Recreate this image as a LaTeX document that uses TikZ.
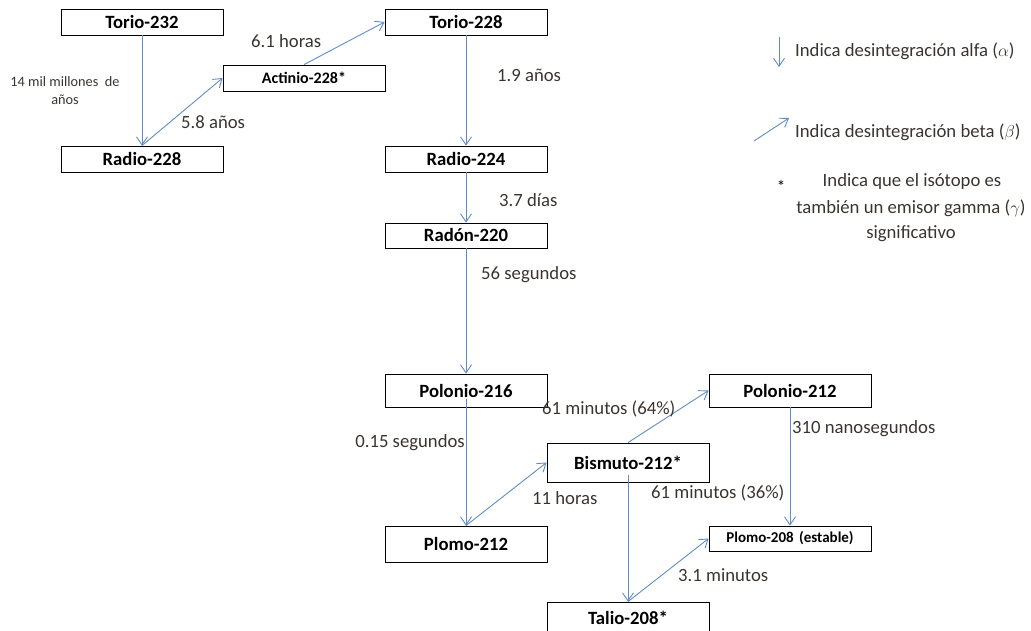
\documentclass[tikz,border=0pt]{standalone}
\usepackage{fontspec}
\setmainfont{Carlito}
\usetikzlibrary{arrows.meta}
\definecolor{arrcol}{HTML}{5F8CC6}
\definecolor{labcol}{HTML}{3A3430}
\tikzset{
  box/.style={draw=black, line width=0.8pt, minimum width=162pt, inner sep=0pt,
    font=\fontsize{18.7}{22}\selectfont\bfseries, text=black},
  arr/.style={draw=arrcol, line width=0.9pt, -{Straight Barb[length=8pt,width=11pt,line width=0.9pt]}},
  lab/.style={anchor=west, inner sep=0pt, text=labcol, font=\fontsize{18.7}{22}\selectfont},
  leg/.style={inner sep=0pt, text=labcol, font=\fontsize{18.7}{22}\selectfont},
}
\begin{document}
\begin{tikzpicture}[x=1pt,y=-1pt]
\useasboundingbox (0,0) rectangle (1031,630);
% boxes
\node[box, minimum height=26pt] (t232) at (142,22) {Torio-232};
\node[box, minimum height=26pt] (r228) at (142,159) {Radio-228};
\node[box, minimum height=26pt, font=\fontsize{16}{19}\selectfont\bfseries] (ac) at (304,78) {Actinio-228*};
\node[box, minimum height=26pt] (t228) at (466,22) {Torio-228};
\node[box, minimum height=26pt] (r224) at (466,159) {Radio-224};
\node[box, minimum height=25pt] (rn) at (466,235.5) {Radón-220};
\node[box, minimum height=33pt] (po216) at (466,390.5) {Polonio-216};
\node[box, minimum height=36pt] (pb212) at (466,544) {Plomo-212};
\node[box, minimum height=39pt] (bi) at (628,462.5) {Bismuto-212*};
\node[box, minimum height=33pt] (po212) at (790,390.5) {Polonio-212};
\node[box, minimum height=25pt, font=\fontsize{15}{18}\selectfont\bfseries] (pb208) at (790,538.5) {Plomo-208\hspace{2pt} (estable)};
\node[box, minimum height=32pt] (tl) at (628,618) {Talio-208*};
% connectors
\draw[arr] (t232.south) -- (r228.north);
\draw[arr] (r228.north) -- (ac.west);
\draw[arr] (ac.north) -- (t228.west);
\draw[arr] (t228.south) -- (r224.north);
\draw[arr] (r224.south) -- (rn.north);
\draw[arr] (rn.south) -- (po216.north);
\draw[arr] ([yshift=-8pt]po216.center) -- (pb212.north);
\draw[arr] (pb212.north) -- (bi.west);
\draw[arr] (bi.north) -- (po212.west);
\draw[arr] ([yshift=-12.5pt]bi.center) -- (tl.north);
\draw[arr] (po212.south) -- (pb208.north);
\draw[arr] (tl.north) -- (pb208.west);
% labels
\node[leg, align=center, font=\fontsize{14.3}{18}\selectfont] (l14) at (65,91) {14 mil millones~ de\\años};
\node[lab] (l58) at (181,122) {5.8 años};
\node[lab] (l61) at (251,41) {6.1 horas};
\node[lab] (l19) at (497,75) {1.9 años};
\node[lab] (l37) at (499,200) {3.7 días};
\node[lab] (l56) at (481,275) {56 segundos};
\node[lab, anchor=east] (l015) at (465,443) {0.15 segundos};
\node[lab] (l64) at (542,409) {61 minutos (64\%)};
\node[lab] (l310) at (792,429) {310 nanosegundos};
\node[lab] (l11) at (532,498) {11 horas};
\node[lab] (l36) at (651,493) {61 minutos (36\%)};
\node[lab] (l31) at (678,575) {3.1 minutos};
% legend
\coordinate (la1) at (779,37);
\coordinate (la2) at (779,67);
\draw[arr] (la1) -- (la2);
\node[lab] (lga) at (795,51) {Indica desintegración alfa ($\alpha$)};
\coordinate (lb1) at (754,141);
\coordinate (lb2) at (789,118);
\draw[arr] (lb1) -- (lb2);
\node[lab] (lgb) at (795,132) {Indica desintegración beta ($\beta$)};
\node[leg, text=black, font=\fontsize{17}{18}\selectfont] (lst) at (781,186) {*};
\node[leg] (lg1) at (912,182) {Indica que el isótopo es};
\node[leg] (lg2) at (911,208) {también un emisor gamma ($\gamma$)};
\node[leg] (lg3) at (911,234) {significativo};
\end{tikzpicture}
\end{document}
